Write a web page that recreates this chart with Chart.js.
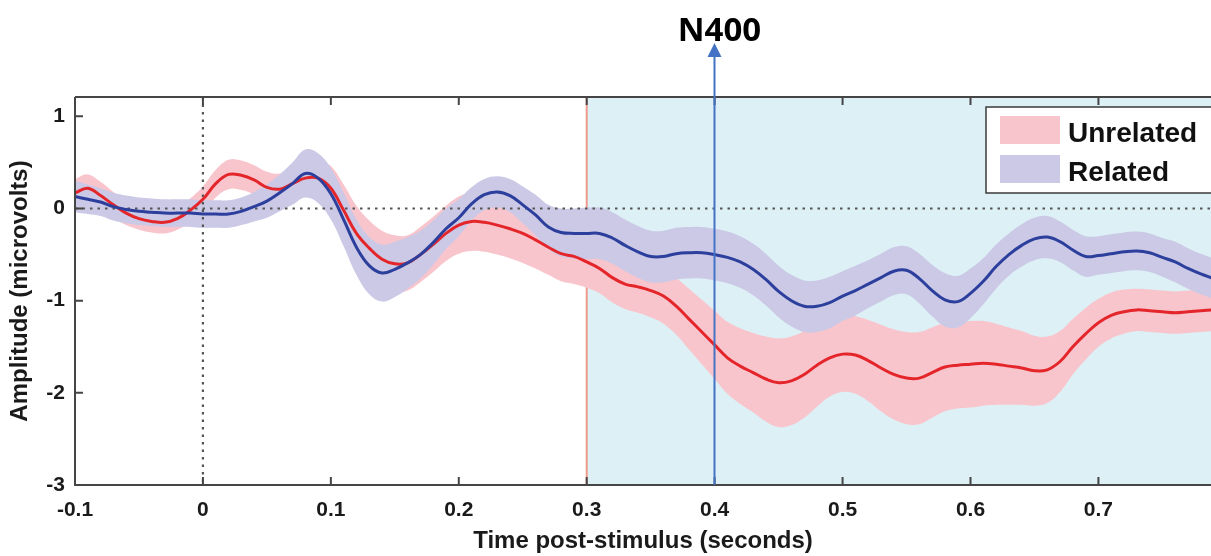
<!DOCTYPE html>
<html>
<head>
<meta charset="utf-8">
<title>N400 ERP</title>
<script src="https://cdn.jsdelivr.net/npm/chart.js@4.4.1/dist/chart.umd.min.js"></script>
<style>
  html, body { margin: 0; padding: 0; background: #fff; }
  #wrap { width: 1211px; height: 556px; }
</style>
</head>
<body>
<div id="wrap"><canvas id="erp" width="1211" height="556"></canvas></div>
<script>
/* ERP waveforms: Unrelated vs Related, N400 window */

const timeSec = [
  -0.10, -0.09, -0.08, -0.07, -0.06, -0.05, -0.04, -0.03, -0.02, -0.01,
  0.00, 0.01, 0.02, 0.03, 0.04, 0.05, 0.06, 0.07, 0.08, 0.09,
  0.10, 0.11, 0.12, 0.13, 0.14, 0.15, 0.16, 0.17, 0.18, 0.19,
  0.20, 0.21, 0.22, 0.23, 0.24, 0.25, 0.26, 0.27, 0.28, 0.29,
  0.30, 0.31, 0.32, 0.33, 0.34, 0.35, 0.36, 0.37, 0.38, 0.39,
  0.40, 0.41, 0.42, 0.43, 0.44, 0.45, 0.46, 0.47, 0.48, 0.49,
  0.50, 0.51, 0.52, 0.53, 0.54, 0.55, 0.56, 0.57, 0.58, 0.59,
  0.60, 0.61, 0.62, 0.63, 0.64, 0.65, 0.66, 0.67, 0.68, 0.69,
  0.70, 0.71, 0.72, 0.73, 0.74, 0.75, 0.76, 0.77, 0.78, 0.79
];

const unrelatedMean = [
  0.17, 0.22, 0.14, 0.04, -0.05, -0.11, -0.14, -0.15, -0.11, -0.02,
  0.10, 0.27, 0.37, 0.36, 0.31, 0.23, 0.21, 0.27, 0.33, 0.33,
  0.22, -0.02, -0.27, -0.43, -0.55, -0.60, -0.59, -0.50, -0.39, -0.27,
  -0.18, -0.14, -0.15, -0.18, -0.22, -0.27, -0.34, -0.42, -0.49, -0.52,
  -0.58, -0.65, -0.75, -0.82, -0.85, -0.89, -0.95, -1.06, -1.20, -1.34,
  -1.48, -1.62, -1.71, -1.78, -1.85, -1.89, -1.87, -1.80, -1.70, -1.62,
  -1.58, -1.59, -1.65, -1.73, -1.80, -1.84, -1.84, -1.78, -1.72, -1.70,
  -1.69, -1.68, -1.69, -1.71, -1.73, -1.76, -1.75, -1.66, -1.50, -1.36,
  -1.24, -1.16, -1.12, -1.10, -1.11, -1.12, -1.13, -1.12, -1.11, -1.10
];

const unrelatedSem = [
  0.15, 0.15, 0.15, 0.14, 0.13, 0.12, 0.12, 0.12, 0.12, 0.13,
  0.14, 0.15, 0.16, 0.16, 0.16, 0.17, 0.17, 0.17, 0.18, 0.20,
  0.24, 0.28, 0.30, 0.30, 0.31, 0.31, 0.30, 0.30, 0.30, 0.30,
  0.31, 0.32, 0.32, 0.32, 0.32, 0.32, 0.31, 0.30, 0.30, 0.30,
  0.28, 0.27, 0.27, 0.27, 0.28, 0.29, 0.30, 0.31, 0.33, 0.35,
  0.37, 0.39, 0.41, 0.43, 0.46, 0.48, 0.48, 0.47, 0.45, 0.42,
  0.41, 0.42, 0.44, 0.47, 0.49, 0.50, 0.50, 0.49, 0.48, 0.47,
  0.47, 0.46, 0.44, 0.42, 0.40, 0.38, 0.36, 0.33, 0.30, 0.28,
  0.26, 0.25, 0.24, 0.23, 0.23, 0.23, 0.23, 0.23, 0.23, 0.23
];

const relatedMean = [
  0.13, 0.10, 0.07, 0.02, -0.01, -0.03, -0.04, -0.05, -0.05, -0.05,
  -0.06, -0.06, -0.06, -0.03, 0.02, 0.08, 0.17, 0.27, 0.38, 0.33,
  0.16, -0.12, -0.42, -0.62, -0.70, -0.66, -0.59, -0.50, -0.37, -0.22,
  -0.10, 0.05, 0.15, 0.18, 0.14, 0.04, -0.07, -0.20, -0.26, -0.27,
  -0.27, -0.27, -0.32, -0.40, -0.47, -0.52, -0.52, -0.49, -0.48, -0.48,
  -0.50, -0.53, -0.58, -0.66, -0.77, -0.90, -1.00, -1.06, -1.06, -1.02,
  -0.95, -0.89, -0.82, -0.75, -0.68, -0.67, -0.76, -0.89, -0.99, -1.01,
  -0.92, -0.79, -0.63, -0.50, -0.40, -0.33, -0.31, -0.36, -0.45, -0.52,
  -0.51, -0.49, -0.47, -0.46, -0.48, -0.53, -0.58, -0.65, -0.71, -0.76
];

const relatedSem = [
  0.17, 0.16, 0.15, 0.15, 0.15, 0.15, 0.15, 0.15, 0.15, 0.15,
  0.15, 0.15, 0.15, 0.15, 0.16, 0.18, 0.20, 0.23, 0.26, 0.27,
  0.28, 0.29, 0.30, 0.31, 0.31, 0.30, 0.28, 0.26, 0.24, 0.22,
  0.20, 0.18, 0.17, 0.17, 0.18, 0.20, 0.22, 0.24, 0.26, 0.27,
  0.28, 0.28, 0.28, 0.28, 0.28, 0.28, 0.28, 0.28, 0.28, 0.28,
  0.28, 0.28, 0.28, 0.28, 0.28, 0.28, 0.28, 0.28, 0.28, 0.28,
  0.27, 0.27, 0.26, 0.26, 0.26, 0.26, 0.27, 0.28, 0.29, 0.28,
  0.27, 0.25, 0.24, 0.23, 0.23, 0.23, 0.23, 0.22, 0.22, 0.22,
  0.21, 0.21, 0.21, 0.21, 0.21, 0.21, 0.22, 0.22, 0.22, 0.22
];

const seriesNames = ['Unrelated', 'Related'];
const xTicks = [-0.1, 0, 0.1, 0.2, 0.3, 0.4, 0.5, 0.6, 0.7];
const xTickLabels = ['-0.1', '0', '0.1', '0.2', '0.3', '0.4', '0.5', '0.6', '0.7'];
const yTicks = [-3, -2, -1, 0, 1];
const windowStart = 0.3;
const markerAt = 0.4;
const markerLabel = 'N400';

const RED = '#e4262b';
const BLUE = '#2c3f9c';
const PINK = '#f9c5cd';
const LAVENDER = '#cbc9e6';
const WINDOW_BG = '#dcf0f5';
const AXIS = '#454545';
const FONT = "'Liberation Sans', Arial, sans-serif";

const pts = (vals) => timeSec.map((t, i) => ({ x: t, y: vals[i] }));
const upper = (m, s) => pts(m.map((v, i) => v + s[i]));
const lower = (m, s) => pts(m.map((v, i) => v - s[i]));

const bandStyle = { borderWidth: 0, pointRadius: 0, tension: 0.4 };

// shaded N400 window, salmon onset line
const windowPlugin = {
  id: 'windowPlugin',
  beforeDatasetsDraw(chart) {
    const { ctx, chartArea: a, scales: { x } } = chart;
    const x0 = x.getPixelForValue(windowStart);
    ctx.save();
    ctx.fillStyle = WINDOW_BG;
    ctx.fillRect(x0, a.top, a.right - x0, a.bottom - a.top);
    ctx.strokeStyle = '#f09a8c';
    ctx.lineWidth = 2;
    ctx.beginPath();
    ctx.moveTo(x0, a.top);
    ctx.lineTo(x0, a.bottom);
    ctx.stroke();
    ctx.restore();
  }
};

// dotted zero lines, drawn above the bands but under the means
const zeroLines = {
  id: 'zeroLines',
  beforeDatasetDraw(chart, args) {
    if (args.index !== 4) return;
    const { ctx, chartArea: a, scales: { x, y } } = chart;
    const px = x.getPixelForValue(0);
    const py = y.getPixelForValue(0);
    ctx.save();
    ctx.strokeStyle = '#555';
    ctx.lineWidth = 2.2;
    ctx.setLineDash([2.5, 5]);
    ctx.beginPath();
    ctx.moveTo(a.left, py);
    ctx.lineTo(a.right, py);
    ctx.moveTo(px, a.top);
    ctx.lineTo(px, a.bottom);
    ctx.stroke();
    ctx.restore();
  }
};

// matlab style box with inward ticks
const axesBox = {
  id: 'axesBox',
  afterDatasetsDraw(chart) {
    const { ctx, chartArea: a, scales: { x, y } } = chart;
    ctx.save();
    ctx.strokeStyle = AXIS;
    ctx.lineWidth = 2;
    ctx.beginPath();
    ctx.moveTo(a.left, a.top);
    ctx.lineTo(a.right, a.top);
    ctx.moveTo(a.left, a.top);
    ctx.lineTo(a.left, a.bottom);
    ctx.lineTo(a.right, a.bottom);
    xTicks.forEach(v => {
      const px = x.getPixelForValue(v);
      ctx.moveTo(px, a.bottom);
      ctx.lineTo(px, a.bottom - 8);
      ctx.moveTo(px, a.top);
      ctx.lineTo(px, a.top + 8);
    });
    yTicks.forEach(v => {
      const py = y.getPixelForValue(v);
      ctx.moveTo(a.left, py);
      ctx.lineTo(a.left + 8, py);
    });
    ctx.stroke();
    ctx.restore();
  }
};

const boxLegend = {
  id: 'boxLegend',
  afterDraw(chart) {
    const { ctx } = chart;
    const swatches = [PINK, LAVENDER];
    ctx.save();
    ctx.fillStyle = '#fff';
    ctx.fillRect(986, 107, 240, 86);
    ctx.strokeStyle = '#3a3a3a';
    ctx.lineWidth = 1.5;
    ctx.strokeRect(986, 107, 240, 86);
    ctx.font = `bold 28px ${FONT}`;
    ctx.textBaseline = 'alphabetic';
    seriesNames.forEach((name, i) => {
      const top = 116 + i * 39;
      ctx.fillStyle = swatches[i];
      ctx.fillRect(1000, top, 60, 28);
      ctx.fillStyle = '#111';
      ctx.fillText(name, 1068, top + 26);
    });
    ctx.restore();
  }
};

const n400Arrow = {
  id: 'n400Arrow',
  afterDraw(chart) {
    const { ctx, chartArea: a, scales: { x } } = chart;
    const px = Math.round(x.getPixelForValue(markerAt)) - 0.5;
    ctx.save();
    ctx.strokeStyle = '#4472c4';
    ctx.fillStyle = '#4472c4';
    ctx.lineWidth = 2;
    ctx.beginPath();
    ctx.moveTo(px, a.bottom);
    ctx.lineTo(px, 56);
    ctx.stroke();
    ctx.beginPath();
    ctx.moveTo(px, 43);
    ctx.lineTo(px - 7, 57);
    ctx.lineTo(px + 7, 57);
    ctx.closePath();
    ctx.fill();
    ctx.fillStyle = '#000';
    ctx.font = "bold 33px 'Open Sans', 'Liberation Sans', sans-serif";
    ctx.textAlign = 'center';
    ctx.textBaseline = 'alphabetic';
    ctx.fillText(markerLabel, px + 5, 41);
    ctx.restore();
  }
};

new Chart(document.getElementById('erp'), {
  type: 'line',
  data: {
    datasets: [
      { label: seriesNames[0] + ' upper', data: upper(unrelatedMean, unrelatedSem), fill: '+1', backgroundColor: PINK, order: 4, ...bandStyle },
      { label: seriesNames[0] + ' lower', data: lower(unrelatedMean, unrelatedSem), fill: false, order: 4, ...bandStyle },
      { label: seriesNames[1] + ' upper', data: upper(relatedMean, relatedSem), fill: '+1', backgroundColor: LAVENDER, order: 3, ...bandStyle },
      { label: seriesNames[1] + ' lower', data: lower(relatedMean, relatedSem), fill: false, order: 3, ...bandStyle },
      { label: seriesNames[0], data: pts(unrelatedMean), borderColor: RED, borderWidth: 3, pointRadius: 0, tension: 0.4, fill: false, order: 2 },
      { label: seriesNames[1], data: pts(relatedMean), borderColor: BLUE, borderWidth: 3, pointRadius: 0, tension: 0.4, fill: false, order: 1 }
    ]
  },
  options: {
    responsive: false,
    animation: false,
    devicePixelRatio: 1,
    layout: { padding: { top: 97, right: 0, left: 0, bottom: 0 } },
    plugins: {
      legend: { display: false },
      tooltip: { enabled: false },
      filler: { propagate: false }
    },
    scales: {
      x: {
        type: 'linear',
        min: -0.1,
        max: 0.788,
        afterBuildTicks: s => { s.ticks = xTicks.map(v => ({ value: v })); },
        afterFit: s => { s.height = 71; },
        grid: { display: false, drawTicks: false },
        border: { display: false },
        ticks: {
          autoSkip: false,
          maxRotation: 0,
          padding: 13,
          color: '#1a1a1a',
          font: { family: FONT, size: 21, weight: 'bold' },
          callback: (v, i) => xTickLabels[i]
        },
        title: {
          display: true,
          text: 'Time post-stimulus (seconds)',
          color: '#1a1a1a',
          font: { family: FONT, size: 24, weight: 'bold' },
          padding: { top: 0, bottom: 0 }
        }
      },
      y: {
        min: -3,
        max: 1.21,
        afterBuildTicks: s => { s.ticks = yTicks.map(v => ({ value: v })); },
        afterFit: s => { s.width = 75; },
        grid: { display: false, drawTicks: false },
        border: { display: false },
        ticks: {
          padding: 10,
          color: '#1a1a1a',
          font: { family: FONT, size: 21, weight: 'bold' },
          callback: v => String(v)
        },
        title: {
          display: true,
          text: 'Amplitude (microvolts)',
          color: '#1a1a1a',
          font: { family: FONT, size: 24, weight: 'bold' },
          padding: { top: 6, bottom: 0 }
        }
      }
    }
  },
  plugins: [windowPlugin, zeroLines, axesBox, boxLegend, n400Arrow]
});
</script>
</body>
</html>
